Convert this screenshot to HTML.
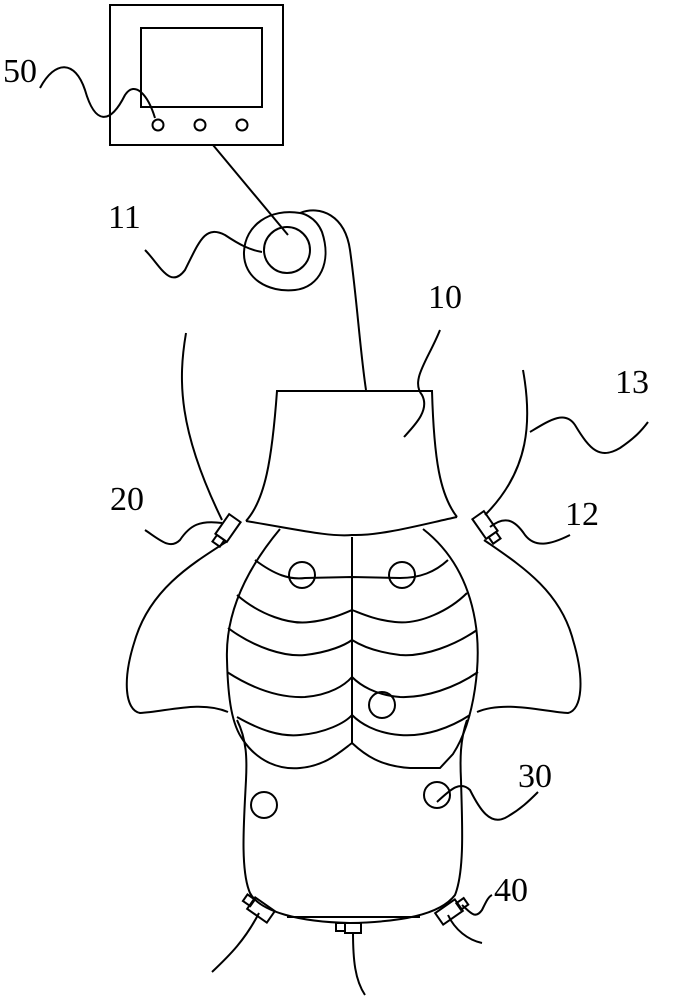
<!DOCTYPE html>
<html><head><meta charset="utf-8"><style>
html,body{margin:0;padding:0;background:#fff;}
svg{display:block;}
text{font-family:"Liberation Serif",serif;font-size:34px;fill:#000;}
</style></head><body>
<svg width="675" height="1000" viewBox="0 0 675 1000" xmlns="http://www.w3.org/2000/svg">
<g fill="none" stroke="#000" stroke-width="2">
<!-- monitor -->
<rect x="110" y="5" width="173" height="140"/>
<rect x="141" y="28" width="121" height="79"/>
<circle cx="158" cy="125" r="5.5"/><circle cx="200" cy="125" r="5.5"/><circle cx="242" cy="125" r="5.5"/>
<path d="M40 88 C55 60 75 60 85 90 C95 125 110 125 125 95 C135 80 148 95 155 118"/>
<!-- cable -->
<path d="M213 145 L288 235"/>
<circle cx="287" cy="250" r="23"/>
<path d="M300 213 C270 208 245 225 244 252 C243 278 268 293 295 290 C320 287 332 262 322 232 C315 215 300 213 300 213 C320 205 345 215 350 250 C357 300 360 350 366 390"/>
<path d="M145 250 C160 265 170 290 185 270 C200 240 205 225 225 235 C240 245 250 250 262 252"/>
<!-- neck -->
<path d="M366 391 L277 391 C272 460 265 500 246 521 M366 391 L432 391 C434 460 440 495 457 517"/>
<path d="M246 521 C300 530 330 537 352 535 C380 536 420 525 457 517"/>
<path d="M440 330 C428 360 410 380 422 395 C430 410 415 425 404 437"/>
<!-- shoulder straps -->
<path d="M186 333 C178 380 178 430 222 520"/>
<path d="M523 370 C532 420 530 470 485 515"/>
<path d="M530 432 C550 420 565 410 575 425 C590 450 600 460 620 448 C635 438 642 430 648 422"/>
<!-- wings -->
<path d="M226 542 C190 565 150 590 135 640 C122 680 125 710 140 713 C165 712 200 700 228 712"/>
<path d="M484 540 C520 565 560 590 573 640 C585 680 582 710 568 713 C545 712 505 700 477 712"/>
<!-- ribcage outline -->
<path d="M280 529 C250 565 225 610 227 660 C228 700 232 725 243 740 C258 762 280 770 300 768 C325 766 340 752 352 743 C365 755 380 766 410 768 L440 768 L453 754 C475 720 482 660 475 620 C468 580 450 550 423 529"/>
<path d="M352 537 L352 743"/>
<path d="M255 560 C275 575 290 580 305 578 L352 577 L400 578 C420 578 435 572 448 560"/>
<path d="M237 595 C260 615 290 625 310 622 C330 620 345 613 352 610 C360 613 375 620 395 622 C420 625 450 610 467 593"/>
<path d="M228 628 C255 648 285 657 305 655 C330 652 345 645 352 640 C360 645 375 652 400 655 C425 657 455 645 477 630"/>
<path d="M227 672 C255 690 280 698 305 697 C330 695 345 685 352 677 C360 685 375 695 400 697 C425 698 455 688 478 672"/>
<path d="M237 717 C260 730 280 737 300 735 C325 733 345 723 352 715 C360 723 375 733 400 735 C425 737 450 728 470 715"/>
<!-- torso -->
<path d="M237 720 C247 740 247 760 246 780 C244 820 240 870 250 893 C260 912 300 922 350 923 C400 922 440 915 455 895 C465 870 462 820 461 780 C460 760 460 740 467 720"/>
<path d="M287 917 L420 917"/>
<circle cx="302" cy="575" r="13"/><circle cx="402" cy="575" r="13"/>
<circle cx="382" cy="705" r="13"/><circle cx="264" cy="805" r="13"/><circle cx="437" cy="795" r="13"/>
<path d="M437 802 C450 790 460 780 470 790 C480 810 490 825 505 818 C520 810 530 800 538 792"/>
<!-- connectors 20/12 -->
<g transform="translate(228,528) rotate(35)"><rect x="-7" y="-12" width="14" height="24"/><rect x="-5" y="12" width="9" height="8"/></g>
<path d="M145 530 C160 540 170 550 180 540 C190 525 200 520 222 523"/>
<g transform="translate(485,525) rotate(-35)"><rect x="-7" y="-12" width="14" height="24"/><rect x="-4" y="12" width="9" height="8"/></g>
<path d="M490 527 C505 515 515 520 525 535 C535 548 550 545 570 535"/>
<!-- bottom connectors -->
<g transform="translate(261,910) rotate(-55)"><rect x="-7" y="-12" width="14" height="24"/><rect x="-3" y="-20" width="8" height="9"/></g>
<path d="M259 913 C245 940 230 955 212 972"/>
<rect x="345" y="923" width="16" height="10"/><rect x="336" y="923" width="9" height="8"/>
<path d="M353 932 C353 960 355 980 365 995"/>
<g transform="translate(449,912) rotate(55)"><rect x="-7" y="-12" width="14" height="24"/><rect x="-3" y="-20" width="8" height="9"/></g>
<path d="M448 915 C455 930 468 940 482 943"/>
<path d="M462 905 C470 912 475 920 482 910 C486 902 488 897 492 895"/>
</g>
<text x="3" y="82">50</text>
<text x="108" y="228">11</text>
<text x="428" y="308">10</text>
<text x="615" y="393">13</text>
<text x="110" y="510">20</text>
<text x="565" y="525">12</text>
<text x="518" y="787">30</text>
<text x="494" y="901">40</text>
</svg>
</body></html>
